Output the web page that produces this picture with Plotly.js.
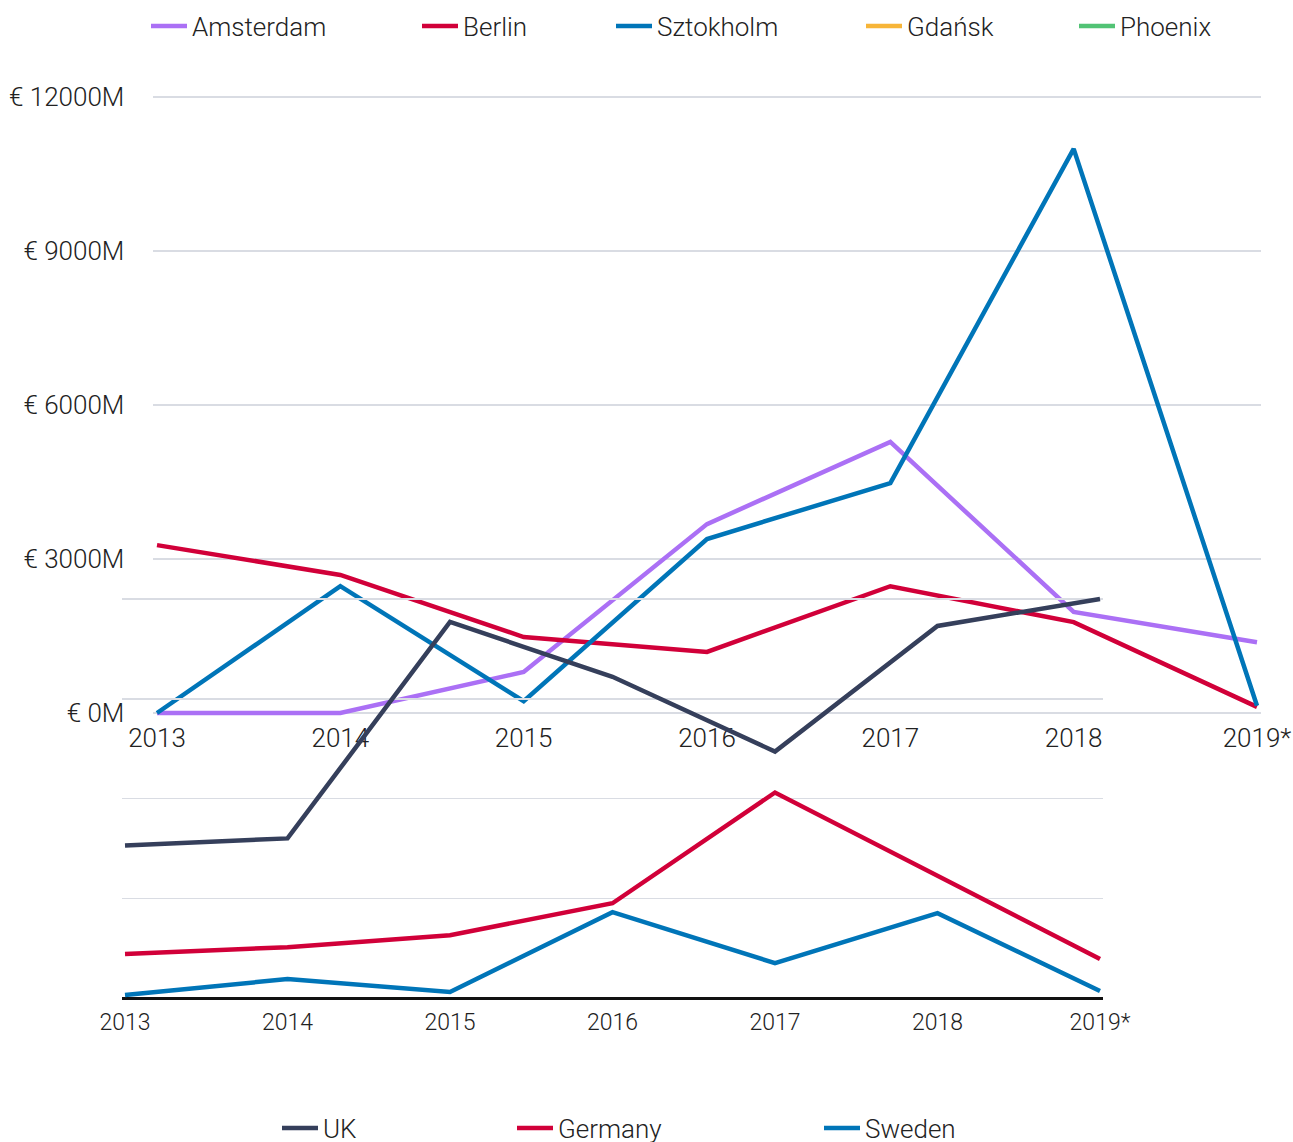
<!DOCTYPE html>
<html>
<head>
<meta charset="utf-8">
<script src="https://cdn.plot.ly/plotly-3.0.1.min.js"></script>
<style>
  html, body { margin: 0; padding: 0; background: #fff; }
  #chart { width: 1293px; height: 1142px; }
</style>
</head>
<body>
<div id="chart"></div>
<script>
// ---- Data ----
const years = ["2013", "2014", "2015", "2016", "2017", "2018", "2019*"];

// Top chart (€ millions)
const amsterdam = [0, 0, 800, 3680, 5280, 1970, 1380];
const berlin    = [3270, 2690, 1480, 1190, 2470, 1770, 120];
const sztokholm = [0, 2470, 230, 3390, 4480, 10990, 140];
const gdansk    = [null, null, null, null, null, null, null];
const phoenix   = [null, null, null, null, null, null, null];

const topTickVals = [0, 3000, 6000, 9000, 12000];
const topTickText = ["€ 0M", "€ 3000M", "€ 6000M", "€ 9000M", "€ 12000M"];

// Bottom chart (relative units)
const uk      = [1530, 1600, 3770, 3220, 2470, 3730, 4000];
const germany = [440, 510, 630, 950, 2060, 1220, 390];
const sweden  = [30, 190, 60, 860, 350, 850, 70];
const bottomGridVals = [1000, 2000, 3000, 4000];

// ---- Styling ----
const W = 1293, H = 1142;
const FONT = "Roboto, 'Noto Sans', sans-serif";
const C = {
  amsterdam: "#ab70f5", berlin: "#d10039", sztokholm: "#0075b8",
  gdansk: "#f7b538", phoenix: "#52c375",
  uk: "#353f5b", germany: "#d10039", sweden: "#0075b8",
  grid: "#d9dce3", text: "#222222"
};
const fx = px => px / W;
const fy = px => 1 - px / H;

function line(name, y, color, xa, ya, legend) {
  return {
    type: "scatter", mode: "lines", name: name,
    x: years, y: y, xaxis: xa, yaxis: ya, legend: legend,
    line: { color: color, width: 4.5 }, hoverinfo: "x+y+name"
  };
}

const data = [
  line("Amsterdam", amsterdam, C.amsterdam, "x", "y", "legend"),
  line("Berlin", berlin, C.berlin, "x", "y", "legend2"),
  line("Sztokholm", sztokholm, C.sztokholm, "x", "y", "legend3"),
  line("Gdańsk", gdansk, C.gdansk, "x", "y", "legend4"),
  line("Phoenix", phoenix, C.phoenix, "x", "y", "legend5"),
  line("UK", uk, C.uk, "x2", "y2", "legend6"),
  line("Germany", germany, C.germany, "x2", "y2", "legend7"),
  line("Sweden", sweden, C.sweden, "x2", "y2", "legend8")
];

function legendAt(xpx, ypx) {
  return {
    x: fx(xpx), y: fy(ypx), xref: "paper", yref: "paper",
    xanchor: "left", yanchor: "middle", orientation: "h",
    bgcolor: "rgba(0,0,0,0)", borderwidth: 0, itemwidth: 36,
    font: { family: FONT, size: 26, color: C.text, weight: 300 }
  };
}

const layout = {
  width: W, height: H,
  margin: { l: 0, r: 0, t: 0, b: 0, autoexpand: false },
  paper_bgcolor: "#fff", plot_bgcolor: "rgba(0,0,0,0)",
  font: { family: FONT, color: C.text, weight: 300 },
  showlegend: true,
  legend:  legendAt(146, 26),
  legend2: legendAt(417, 26),
  legend3: legendAt(611, 26),
  legend4: legendAt(861, 26),
  legend5: legendAt(1074, 26),
  legend6: legendAt(277, 1128),
  legend7: legendAt(512, 1128),
  legend8: legendAt(819, 1128),
  xaxis: {
    type: "category", domain: [fx(153.33), fx(1260.67)], range: [-0.02, 6.02],
    anchor: "y", showgrid: false, zeroline: false, showline: false,
    ticks: "", ticklabelstandoff: 4,
    tickfont: { family: FONT, size: 26, color: C.text, weight: 300 }
  },
  yaxis: {
    domain: [fy(716.08), fy(93.92)], range: [-60, 12060], anchor: "x",
    tickvals: topTickVals, ticktext: topTickText,
    showgrid: true, gridcolor: C.grid, gridwidth: 1.5, zeroline: false, showline: false,
    ticks: "", ticklabelstandoff: 28,
    tickfont: { family: FONT, size: 26, color: C.text, weight: 300 }
  },
  xaxis2: {
    type: "category", domain: [fx(121.75), fx(1103.25)], range: [-0.02, 6.02],
    anchor: "y2", showgrid: false, zeroline: false, showline: false,
    ticks: "", ticklabelstandoff: 4,
    tickfont: { family: FONT, size: 23, color: C.text, weight: 300 }
  },
  yaxis2: {
    domain: [fy(1002), fy(595)], range: [-40, 4040], anchor: "x2",
    tickvals: bottomGridVals, showticklabels: false,
    showgrid: true, gridcolor: C.grid, gridwidth: 1.5,
    zeroline: true, zerolinecolor: "#111111", zerolinewidth: 3, showline: false
  }
};

Plotly.newPlot("chart", data, layout, { displayModeBar: false, staticPlot: true });
</script>
</body>
</html>
